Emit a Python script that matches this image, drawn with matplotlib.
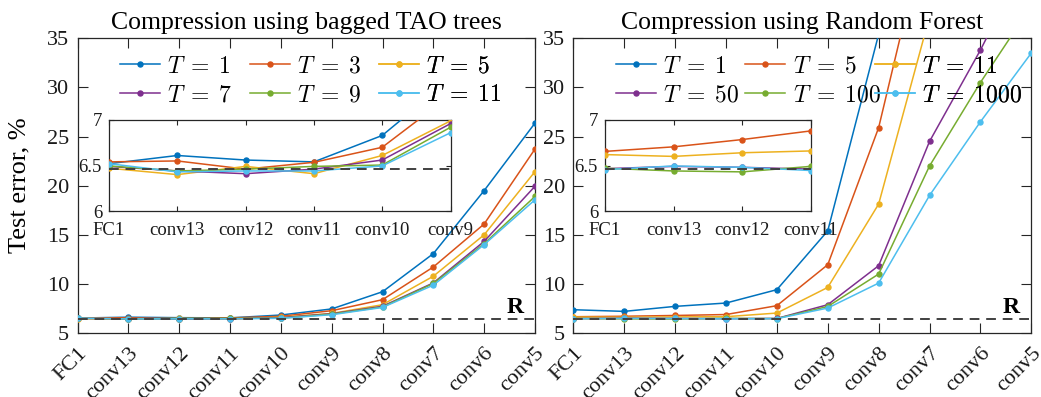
import numpy as np
import matplotlib
matplotlib.use("Agg")
from matplotlib import pyplot as plt

plt.rcParams['font.family'] = 'serif'
plt.rcParams['font.serif'] = ['Liberation Serif', 'DejaVu Serif']
plt.rcParams['mathtext.fontset'] = 'cm'

layers = ['FC1', 'conv13', 'conv12', 'conv11', 'conv10',
          'conv9', 'conv8', 'conv7', 'conv6', 'conv5']
ref_err = 6.46   # reference net error (R)

# bagged TAO trees
tao_T = [1, 3, 5, 7, 9, 11]
tao_T1 = [6.52, 6.61, 6.56, 6.54, 6.83, 7.45, 9.2, 13.08, 19.5, 26.37]
tao_T3 = [6.54, 6.55, 6.46, 6.535, 6.70, 7.27, 8.39, 11.72, 16.1, 23.73]
tao_T5 = [6.47, 6.40, 6.49, 6.41, 6.61, 6.99, 7.88, 10.78, 15.0, 21.43]
tao_T7 = [6.49, 6.44, 6.41, 6.46, 6.56, 6.96, 7.72, 10.1, 14.33, 19.94]
tao_T9 = [6.495, 6.44, 6.46, 6.49, 6.505, 6.92, 7.65, 10.04, 14.1, 18.9]
tao_T11 = [6.52, 6.43, 6.44, 6.44, 6.495, 6.86, 7.6, 9.87, 14.0, 18.56]

# random forest
rf_T = [1, 5, 11, 50, 100, 1000]
rf_T1 = [7.37, 7.2, 7.71, 8.05, 9.41, 15.4, 35.4, 48.0, 60.0, 70.0]
rf_T5 = [6.655, 6.705, 6.785, 6.88, 7.78, 11.95, 25.9, 47.6, 60.0, 70.0]
rf_T11 = [6.62, 6.60, 6.64, 6.66, 7.03, 9.64, 18.12, 37.2, 50.0, 60.0]
rf_T50 = [6.465, 6.49, 6.48, 6.46, 6.48, 7.88, 11.85, 24.5, 33.8, 44.0]
rf_T100 = [6.47, 6.44, 6.43, 6.49, 6.47, 7.7, 11.0, 22.0, 30.5, 38.3]
rf_T1000 = [6.455, 6.495, 6.48, 6.445, 6.46, 7.54, 10.08, 19.0, 26.5, 33.5]

colors = ['#0072BD', '#D95319', '#EDB120', '#7E2F8E', '#77AC30', '#4DBEEE']
spine_col = '#262626'

W, H = 1041, 397
fig = plt.figure(figsize=(W / 100, H / 100), dpi=100)

def px_axes(x0, y0, x1, y1):
    # pixel box (top-left origin) -> figure axes
    return fig.add_axes([x0 / W, 1 - y1 / H, (x1 - x0) / W, (y1 - y0) / H])

def style(ax, ticklen, fs, xpad, ypad):
    for s in ax.spines.values():
        s.set_color(spine_col)
        s.set_linewidth(0.9)
    ax.tick_params(direction='in', top=True, right=True, length=ticklen,
                   width=0.8, colors=spine_col, labelcolor='#1a1a1a',
                   labelsize=fs)
    ax.tick_params(axis='x', pad=xpad)
    ax.tick_params(axis='y', pad=ypad)

def draw_panel(ax, inset, series, Ts, nin, title):
    x = np.arange(len(layers))
    for a in (ax, inset):
        a.axhline(ref_err, color='#404040', ls=(0, (5, 3.5)), lw=1.4, zorder=4)
        for ys, c in zip(series, colors):
            a.plot(x, ys, '-o', color=c, lw=1.1, ms=3.6, zorder=3)

    ax.set_xlim(0, 9)
    ax.set_ylim(5, 35)
    ax.set_yticks(range(5, 36, 5))
    ax.set_xticks(x)
    ax.set_xticklabels(layers, rotation=45, ha='right', va='top',
                       rotation_mode='anchor')
    style(ax, 7, 16, 8, 6)
    ax.set_title(title, fontsize=18.5, pad=7)
    ax.text(8.78, 7.0, 'R', fontsize=17, fontweight='bold', ha='right',
            va='baseline')

    inset.set_xlim(0, nin)
    inset.set_ylim(6, 7)
    inset.set_yticks([6, 6.5, 7])
    inset.set_yticklabels(['6', '6.5', '7'])
    inset.set_xticks(range(nin + 1))
    inset.set_xticklabels(layers[:nin + 1])
    style(inset, 3.5, 13.5, 8, 5)

    # fixed-width legend columns
    handles = ax.get_lines()[1:]
    labels = [r'$T\;=\;%d$' % t for t in Ts]
    axw = ax.get_position().width * W
    for c in range(3):
        leg = ax.legend([handles[c], handles[c + 3]], [labels[c], labels[c + 3]],
                        loc='upper left',
                        bbox_to_anchor=((42.6 + c * 129.4) / axw, 0.94),
                        frameon=False, fontsize=17, borderpad=0,
                        handlelength=1.7, handletextpad=0.3,
                        labelspacing=0.3, numpoints=1, borderaxespad=0)
        ax.add_artist(leg)

ax1 = px_axes(77.5, 38.3, 535, 333)
ins1 = px_axes(109, 120, 450.5, 211)
draw_panel(ax1, ins1, [tao_T1, tao_T3, tao_T5, tao_T7, tao_T9, tao_T11],
           tao_T, 5, 'Compression using bagged TAO trees')
ax1.set_ylabel('Test error, %', fontsize=19, labelpad=12)

ax2 = px_axes(573.3, 38.3, 1031.3, 333)
ins2 = px_axes(605, 120, 810.7, 211)
draw_panel(ax2, ins2, [rf_T1, rf_T5, rf_T11, rf_T50, rf_T100, rf_T1000],
           rf_T, 3, 'Compression using Random Forest')

fig.savefig('out.png', dpi=100)
